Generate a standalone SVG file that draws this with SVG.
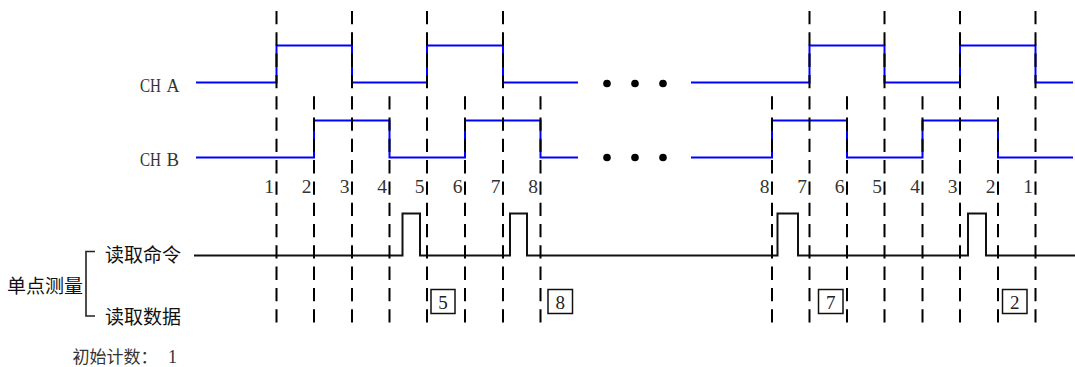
<svg xmlns="http://www.w3.org/2000/svg" width="1075" height="367" viewBox="0 0 1075 367">
<style>
.sig{fill:none;stroke:#0000ff;stroke-width:2}
.cmd{fill:none;stroke:#111;stroke-width:2}
.guide{stroke:#000;stroke-width:2;stroke-dasharray:13.3 8}
.num{font-family:"Liberation Serif",serif;font-size:19.5px;fill:#333;text-anchor:end}
.ch{font-family:"Liberation Serif",serif;font-size:19px;fill:#333}
.box{fill:#fff;stroke:#111;stroke-width:1.5}
.boxnum{font-family:"Liberation Serif",serif;font-size:19px;fill:#222;text-anchor:middle}
.cjk{font-family:"Noto Sans CJK SC",sans-serif;font-size:19px;fill:#111}
.dot{fill:#000}
</style>
<rect width="1075" height="367" fill="#fff"/>

<g id="ch-a">
  <text class="ch" x="140" y="91.5"><tspan textLength="21" lengthAdjust="spacingAndGlyphs">CH</tspan> <tspan x="166.5" textLength="13" lengthAdjust="spacingAndGlyphs">A</tspan></text>
  <path class="sig" d="M196,82.5 H276.5 V45.5 H352 V82.5 H427 V45.5 H503 V82.5 H578"/>
  <path class="sig" d="M691,82.5 H809.5 V45.5 H884.5 V82.5 H960 V45.5 H1035.5 V82.5 H1073"/>
  <circle class="dot" cx="607" cy="83.5" r="3.8"/>
  <circle class="dot" cx="635" cy="83.5" r="3.8"/>
  <circle class="dot" cx="663" cy="83.5" r="3.8"/>
</g>

<g id="ch-b">
  <text class="ch" x="140" y="165.5"><tspan textLength="21" lengthAdjust="spacingAndGlyphs">CH</tspan> <tspan x="166.5" textLength="12.5" lengthAdjust="spacingAndGlyphs">B</tspan></text>
  <path class="sig" d="M196,157.5 H314 V120.5 H389.5 V157.5 H465 V120.5 H540.5 V157.5 H578"/>
  <path class="sig" d="M691,157.5 H772 V120.5 H847 V157.5 H922.5 V120.5 H998 V157.5 H1073"/>
  <circle class="dot" cx="607" cy="157.5" r="3.8"/>
  <circle class="dot" cx="635" cy="157.5" r="3.8"/>
  <circle class="dot" cx="663" cy="157.5" r="3.8"/>
</g>

<g id="read-command">
  <path class="cmd" d="M194,255.5 H402.5 V213.5 H420 V255.5 H510 V213.5 H527 V255.5 H777.5 V213.5 H798 V255.5 H968 V213.5 H986 V255.5 H1075"/>
</g>

<g id="connectors">
  <line class="guide" x1="276.5" y1="11" x2="276.5" y2="322.5"/>
  <line class="guide" x1="314" y1="96.2" x2="314" y2="322.5"/>
  <line class="guide" x1="352" y1="11" x2="352" y2="322.5"/>
  <line class="guide" x1="389.5" y1="96.2" x2="389.5" y2="322.5"/>
  <line class="guide" x1="427" y1="11" x2="427" y2="322.5"/>
  <line class="guide" x1="465" y1="96.2" x2="465" y2="322.5"/>
  <line class="guide" x1="503" y1="11" x2="503" y2="322.5"/>
  <line class="guide" x1="540.5" y1="96.2" x2="540.5" y2="322.5"/>
  <line class="guide" x1="772" y1="96.2" x2="772" y2="322.5"/>
  <line class="guide" x1="809.5" y1="11" x2="809.5" y2="322.5"/>
  <line class="guide" x1="847" y1="96.2" x2="847" y2="322.5"/>
  <line class="guide" x1="884.5" y1="11" x2="884.5" y2="322.5"/>
  <line class="guide" x1="922.5" y1="96.2" x2="922.5" y2="322.5"/>
  <line class="guide" x1="960" y1="11" x2="960" y2="322.5"/>
  <line class="guide" x1="998" y1="96.2" x2="998" y2="322.5"/>
  <line class="guide" x1="1035.5" y1="11" x2="1035.5" y2="322.5"/>
</g>

<g id="edge-numbers">
  <text class="num" x="274" y="193">1</text>
  <text class="num" x="311.5" y="193">2</text>
  <text class="num" x="349.5" y="193">3</text>
  <text class="num" x="387" y="193">4</text>
  <text class="num" x="424.5" y="193">5</text>
  <text class="num" x="462.5" y="193">6</text>
  <text class="num" x="500.5" y="193">7</text>
  <text class="num" x="538" y="193">8</text>
  <text class="num" x="769.5" y="193">8</text>
  <text class="num" x="807" y="193">7</text>
  <text class="num" x="844.5" y="193">6</text>
  <text class="num" x="882" y="193">5</text>
  <text class="num" x="920" y="193">4</text>
  <text class="num" x="957.5" y="193">3</text>
  <text class="num" x="995.5" y="193">2</text>
  <text class="num" x="1033" y="193">1</text>
</g>

<g id="read-data">
  <g id="box-5"><rect class="box" x="431" y="289.5" width="24" height="24"/><text class="boxnum" x="443" y="308.5">5</text></g>
  <g id="box-8"><rect class="box" x="548" y="289.5" width="24.5" height="24"/><text class="boxnum" x="560.3" y="308.5">8</text></g>
  <g id="box-7"><rect class="box" x="818.5" y="289.5" width="24.5" height="24"/><text class="boxnum" x="830.8" y="308.5">7</text></g>
  <g id="box-2"><rect class="box" x="1002.5" y="289.5" width="24.5" height="24"/><text class="boxnum" x="1014.8" y="308.5">2</text></g>
</g>

<g id="legend">
  <text class="cjk" x="7" y="292.5">单点测量</text>
  <path d="M95,251.5 H86 V316 H95" fill="none" stroke="#222" stroke-width="1.6"/>
  <text class="cjk" x="105" y="262">读取命令</text>
  <text class="cjk" x="105" y="323.5">读取数据</text>
  <text x="72.5" y="363" style="font-family:'Noto Sans CJK SC',sans-serif;font-size:17px;fill:#333">初始计数：<tspan x="168" style="font-family:'Liberation Serif',serif;font-size:18px">1</tspan></text>
</g>
</svg>
